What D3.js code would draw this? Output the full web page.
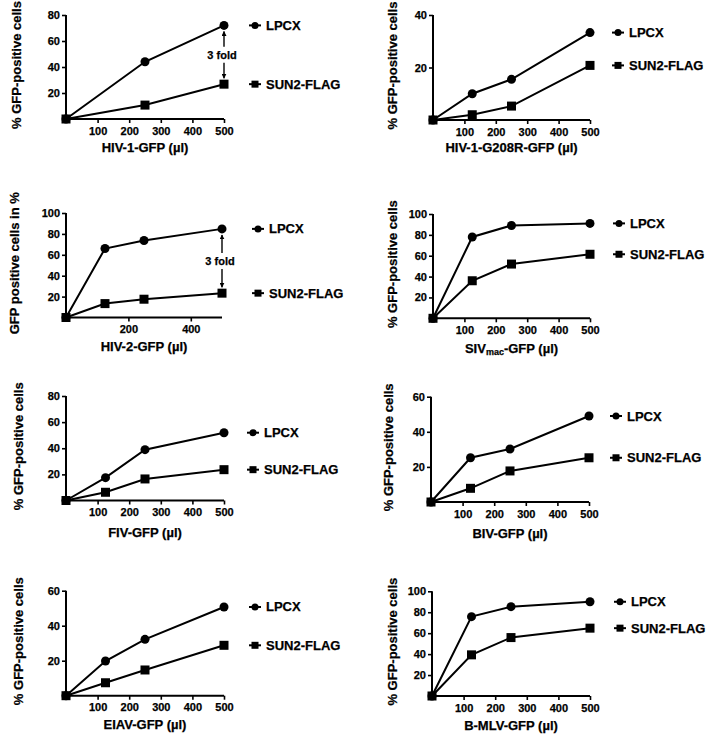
<!DOCTYPE html>
<html>
<head>
<meta charset="utf-8">
<script src="https://cdn.jsdelivr.net/npm/d3@7"></script>
<style>
  html, body { margin: 0; padding: 0; background: #fff; }
  svg { display: block; }
  text { font-family: "Liberation Sans", Arial, sans-serif; font-weight: bold; fill: #000; stroke: #000; stroke-width: 0.25px; }
</style>
</head>
<body>
<svg id="chart" width="708" height="735"></svg>
<script>
// ---------- data ----------
const seriesNames = ["LPCX", "SUN2-FLAG"];
const dose3 = [0, 250, 500];
const dose4 = [0, 125, 250, 500];

const hiv1LPCX = [0, 44, 72];
const hiv1SUN2 = [0, 10.7, 26.8];
const g208rLPCX = [0, 10, 15.5, 33.3];
const g208rSUN2 = [0, 2, 5.3, 20.8];
const hiv2LPCX = [0, 66, 73.7, 84.8];
const hiv2SUN2 = [0, 13.3, 17.5, 23.3];
const sivLPCX = [0, 78, 89, 91];
const sivSUN2 = [0, 36, 52, 61.4];
const fivLPCX = [0, 17.5, 38.9, 51.9];
const fivSUN2 = [0, 6.3, 16.5, 23.6];
const bivLPCX = [0, 25.2, 30.2, 49];
const bivSUN2 = [0, 7.8, 17.7, 25.2];
const eiavLPCX = [0, 19.8, 32.2, 50.7];
const eiavSUN2 = [0, 7.4, 14.7, 28.8];
const bmlvLPCX = [0, 75.8, 85.3, 90];
const bmlvSUN2 = [0, 39.3, 55.8, 64.8];

const xTicksFull = [100, 200, 300, 400, 500];
const xTicksHiv2 = [200, 400];
const yTicks80 = [20, 40, 60, 80];
const yTicks40 = [20, 40];
const yTicks100 = [20, 40, 60, 80, 100];
const yTicks60 = [20, 40, 60];

const yLabelStd = "% GFP-positive cells";
const yLabelHiv2 = "GFP positive cells in %";
const foldLabel = "3 fold";

// ---------- panel layout ----------
const panels = [
  { x0: 66, x1: 224, yT: 15, yB: 119, yMax: 80, yTicks: yTicks80, xTicks: xTicksFull, dose: dose3,
    lpcx: hiv1LPCX, sun2: hiv1SUN2, xTitle: ["HIV-1-GFP (µl)"], yTitle: yLabelStd, yLabX: 16, xTitleDy: 28, legDx: 31, fold: true },
  { x0: 433, x1: 590, yT: 15, yB: 120, yMax: 40, yTicks: yTicks40, xTicks: xTicksFull, dose: dose4,
    lpcx: g208rLPCX, sun2: g208rSUN2, xTitle: ["HIV-1-G208R-GFP (µl)"], yTitle: yLabelStd, yLabX: 392, xTitleDy: 27, legDx: 28 },
  { x0: 66, x1: 222, yT: 213, yB: 317.5, yMax: 100, yTicks: yTicks100, xTicks: xTicksHiv2, dose: dose4,
    lpcx: hiv2LPCX, sun2: hiv2SUN2, xTitle: ["HIV-2-GFP (µl)"], yTitle: yLabelHiv2, yLabX: 14, xTitleDy: 29, legDx: 36, fold: true },
  { x0: 433, x1: 590, yT: 214, yB: 318.3, yMax: 100, yTicks: yTicks100, xTicks: xTicksFull, dose: dose4,
    lpcx: sivLPCX, sun2: sivSUN2, xTitle: ["SIV", "mac", "-GFP (µl)"], yTitle: yLabelStd, yLabX: 392, xTitleDy: 30, legDx: 29 },
  { x0: 66, x1: 224, yT: 396, yB: 500.5, yMax: 80, yTicks: yTicks80, xTicks: xTicksFull, dose: dose4,
    lpcx: fivLPCX, sun2: fivSUN2, xTitle: ["FIV-GFP (µl)"], yTitle: yLabelStd, yLabX: 18, xTitleDy: 32, legDx: 29 },
  { x0: 431, x1: 589, yT: 396.7, yB: 502, yMax: 60, yTicks: yTicks60, xTicks: xTicksFull, dose: dose4,
    lpcx: bivLPCX, sun2: bivSUN2, xTitle: ["BIV-GFP (µl)"], yTitle: yLabelStd, yLabX: 388, xTitleDy: 31, legDx: 27 },
  { x0: 66, x1: 224, yT: 590.7, yB: 695.7, yMax: 60, yTicks: yTicks60, xTicks: xTicksFull, dose: dose4,
    lpcx: eiavLPCX, sun2: eiavSUN2, xTitle: ["EIAV-GFP (µl)"], yTitle: yLabelStd, yLabX: 18, xTitleDy: 29, legDx: 31 },
  { x0: 432, x1: 590, yT: 591.3, yB: 696, yMax: 100, yTicks: yTicks100, xTicks: xTicksFull, dose: dose4,
    lpcx: bmlvLPCX, sun2: bmlvSUN2, xTitle: ["B-MLV-GFP (µl)"], yTitle: yLabelStd, yLabX: 392, xTitleDy: 29, legDx: 30 }
];

const svg = d3.select("#chart");
const defs = svg.append("defs");
defs.append("marker").attr("id", "arrowEnd").attr("viewBox", "0 0 10 10")
  .attr("refX", 9).attr("refY", 5).attr("markerWidth", 5).attr("markerHeight", 5)
  .attr("markerUnits", "userSpaceOnUse").attr("orient", "auto")
  .append("path").attr("d", "M0,0 L10,5 L0,10 Z").attr("fill", "#000");

const lw = 2;

function drawMarker(g, shape, cx, cy, size) {
  if (shape === "circle") {
    g.append("circle").attr("cx", cx).attr("cy", cy).attr("r", size / 2).attr("fill", "#000");
  } else {
    g.append("rect").attr("x", cx - size / 2).attr("y", cy - size / 2)
      .attr("width", size).attr("height", size).attr("fill", "#000");
  }
}

panels.forEach(p => {
  const g = svg.append("g");
  const x = d3.scaleLinear().domain([0, 500]).range([p.x0, p.x1]);
  const y = d3.scaleLinear().domain([0, p.yMax]).range([p.yB, p.yT]);

  // axes
  const xAxis = d3.axisBottom(x).tickValues(p.xTicks).tickSize(4).tickPadding(4).tickSizeOuter(0);
  const yAxis = d3.axisLeft(y).tickValues(p.yTicks).tickSize(4).tickPadding(2).tickSizeOuter(0);

  const gx = g.append("g").attr("transform", `translate(0,${p.yB})`).call(xAxis);
  const gy = g.append("g").attr("transform", `translate(${p.x0},0)`).call(yAxis);
  [gx, gy].forEach(ax => {
    ax.select(".domain").attr("stroke", "#000").attr("stroke-width", lw);
    ax.selectAll(".tick line").attr("stroke", "#000").attr("stroke-width", 1.6);
    ax.selectAll(".tick text").style("font-size", "11px").style("font-weight", "bold")
      .style("font-family", '"Liberation Sans", Arial, sans-serif').attr("fill", "#000");
  });
  gx.select(".domain").attr("d", `M${p.x0 - 1},0H${p.x1}`);
  gy.select(".domain").attr("d", `M0,${p.yB + 1}V${p.yT}`);

  // series
  const series = [
    { name: seriesNames[0], vals: p.lpcx, shape: "circle" },
    { name: seriesNames[1], vals: p.sun2, shape: "square" }
  ];
  const line = d3.line().x(d => x(d[0])).y(d => y(d[1]));
  series.forEach(s => {
    const pts = p.dose.map((d, i) => [d, s.vals[i]]);
    g.append("path").attr("d", line(pts)).attr("fill", "none")
      .attr("stroke", "#000").attr("stroke-width", lw).attr("stroke-linejoin", "miter");
  });
  series.forEach(s => {
    p.dose.forEach((d, i) => drawMarker(g, s.shape, x(d), y(s.vals[i]), 9));
  });

  // legend at y of last point
  series.forEach(s => {
    const ly = y(s.vals[s.vals.length - 1]);
    const lx = p.x1 + p.legDx;
    g.append("line").attr("x1", lx - 6).attr("x2", lx + 6).attr("y1", ly).attr("y2", ly)
      .attr("stroke", "#000").attr("stroke-width", lw);
    drawMarker(g, s.shape, lx, ly, 7);
    g.append("text").attr("x", lx + 11).attr("y", ly).attr("dominant-baseline", "central")
      .style("font-size", "13px").text(s.name);
  });

  // x title
  const xt = g.append("text").attr("x", (p.x0 + p.x1) / 2).attr("y", p.yB + p.xTitleDy)
    .attr("text-anchor", "middle").attr("dominant-baseline", "central").style("font-size", "13px");
  if (p.xTitle.length === 1) {
    xt.text(p.xTitle[0]);
  } else {
    xt.append("tspan").text(p.xTitle[0]);
    xt.append("tspan").attr("dy", 4).style("font-size", "9px").text(p.xTitle[1]);
    xt.append("tspan").attr("dy", -4).text(p.xTitle[2]);
  }

  // y title
  g.append("text").attr("transform", `translate(${p.yLabX},${(p.yT + p.yB) / 2 - 2}) rotate(-90)`)
    .attr("text-anchor", "middle").attr("dominant-baseline", "central")
    .style("font-size", "13px").text(p.yTitle);

  // 3 fold annotation
  if (p.fold) {
    const ax = x(500);
    const yTop = y(p.lpcx[p.lpcx.length - 1]) + 6;
    const yBot = y(p.sun2[p.sun2.length - 1]) - 6;
    const mid = (yTop + yBot) / 2;
    g.append("line").attr("x1", ax).attr("x2", ax).attr("y1", mid - 8).attr("y2", yTop)
      .attr("stroke", "#000").attr("stroke-width", 1.4).attr("marker-end", "url(#arrowEnd)");
    g.append("line").attr("x1", ax).attr("x2", ax).attr("y1", mid + 8).attr("y2", yBot)
      .attr("stroke", "#000").attr("stroke-width", 1.4).attr("marker-end", "url(#arrowEnd)");
    g.append("text").attr("x", ax - 2).attr("y", mid).attr("text-anchor", "middle")
      .attr("dominant-baseline", "central").style("font-size", "11px").text(foldLabel);
  }
});
</script>
</body>
</html>
